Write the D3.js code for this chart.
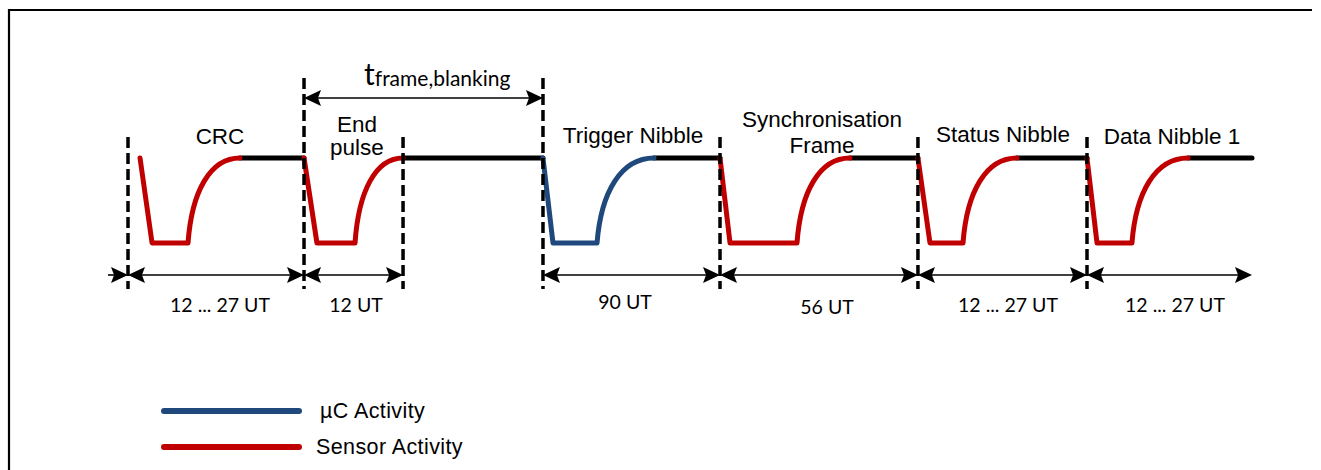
<!DOCTYPE html>
<html>
<head>
<meta charset="utf-8">
<script src="https://cdn.jsdelivr.net/npm/d3@7"></script>
<style>
  body { margin: 0; background: #fff; }
  text { font-family: "Liberation Sans", Arial, sans-serif; fill: #000; }
  .calibri { font-family: Lato, "Open Sans", sans-serif; }
</style>
</head>
<body>
<script>
// frame sequence of the SENT message (schematic time units, 0..100)
var frames = ["CRC", "End pulse", "Blanking", "Trigger Nibble", "Synchronisation Frame", "Status Nibble", "Data Nibble 1"];
var frameStart = [0, 15.66, 24.47, 36.92, 52.67, 70.28, 85.32];
var frameEnd = [15.66, 24.47, 36.92, 52.67, 70.28, 85.32, 100];
// pulse edges inside each frame
var pulseStart = [1.07, 15.66, null, 36.92, 52.67, 70.28, 85.32];
var fallEnd = [2.14, 16.81, null, 37.81, 53.56, 71.35, 86.21];
var lowEnd = [5.34, 20.2, null, 41.73, 59.52, 74.29, 89.32];
var riseEnd = [9.96, 24.47, null, 46.8, 64.23, 79.09, 94.31];
var source = ["sensor", "sensor", null, "uc", "sensor", "sensor", "sensor"];
var durations = ["12 ... 27 UT", "12 UT", null, "90 UT", "56 UT", "12 ... 27 UT", "12 ... 27 UT"];
var markers = [0, 15.66, 24.47, 36.92, 52.67, 70.28, 85.32];
var tallMarkers = [15.66, 36.92];
var blanking = [15.66, 36.92];
var legendKeys = ["uc", "sensor"];
var legendLabels = ["µC Activity", "Sensor Activity"];

// layout
var W = 1321, H = 470;
var yArrow = 275, yBlank = 98;
var labelLayout = [
  { lines: ["CRC"], x: 220, y: [144] },
  { lines: ["End", "pulse"], x: 357, y: [132, 155] },
  null,
  { lines: ["Trigger Nibble"], x: 633, y: [143] },
  { lines: ["Synchronisation", "Frame"], x: 822, y: [127, 153] },
  { lines: ["Status Nibble"], x: 1003, y: [142] },
  { lines: ["Data Nibble 1"], x: 1172, y: [144] }
];
var durLayout = [[220, 312], [356, 312], null, [625, 309], [827, 314], [1008, 312], [1175, 312]];

var x = d3.scaleLinear().domain([0, 100]).range([128, 1252]);
var y = d3.scaleLinear().domain([0, 1]).range([243, 158]);
var color = d3.scaleOrdinal().domain(["uc", "sensor"]).range(["#1F497D", "#C00000"]);

var svg = d3.select("body").append("svg")
    .attr("width", W)
    .attr("height", H);

// border (cropped frame)
svg.append("path")
    .attr("d", "M9," + H + "V10H1312")
    .attr("fill", "none")
    .attr("stroke", "#000")
    .attr("stroke-width", 2.2);

// idle (black) parts of the line
var idle = svg.append("g");
frames.forEach(function (f, i) {
  var from = riseEnd[i] == null ? frameStart[i] : riseEnd[i];
  idle.append("line")
      .attr("x1", x(from)).attr("x2", x(frameEnd[i]))
      .attr("y1", y(1)).attr("y2", y(1))
      .attr("stroke", "#000")
      .attr("stroke-width", 5)
      .attr("stroke-linecap", "round");
});

// pulses
var pulses = svg.append("g");
frames.forEach(function (f, i) {
  if (pulseStart[i] == null) return;
  var p = d3.path();
  var x0 = x(lowEnd[i]), x1 = x(riseEnd[i]), w = x1 - x0;
  p.moveTo(x(pulseStart[i]), y(1));
  p.lineTo(x(fallEnd[i]), y(0));
  p.lineTo(x0, y(0));
  p.bezierCurveTo(x0 + 0.07 * w, y(0.6), x0 + 0.42 * w, y(1), x1, y(1));
  pulses.append("path")
      .attr("d", p.toString())
      .attr("fill", "none")
      .attr("stroke", color(source[i]))
      .attr("stroke-width", 5)
      .attr("stroke-linecap", "round")
      .attr("stroke-linejoin", "round");
});

// dashed frame markers
svg.append("g").selectAll("line")
    .data(markers)
    .enter().append("line")
    .attr("x1", function (d) { return x(d); })
    .attr("x2", function (d) { return x(d); })
    .attr("y1", function (d) { return tallMarkers.indexOf(d) >= 0 ? 78 : 137; })
    .attr("y2", 289)
    .attr("stroke", "#000")
    .attr("stroke-width", 3.5)
    .attr("stroke-dasharray", "11,5");

// arrows
function head(g, tip, yy, dir) {
  // dir = -1 points left, +1 points right
  var L = 17, h = 8;
  g.append("path")
      .attr("d", "M" + tip + "," + yy + "L" + (tip - dir * L) + "," + (yy - h) +
        "L" + (tip - dir * L * 0.82) + "," + yy + "L" + (tip - dir * L) + "," + (yy + h) + "Z")
      .attr("fill", "#000");
}
function dimArrow(g, a, b, yy) {
  g.append("line")
      .attr("x1", a + 10).attr("x2", b - 10)
      .attr("y1", yy).attr("y2", yy)
      .attr("stroke", "#000").attr("stroke-width", 1.6);
  head(g, a, yy, -1);
  head(g, b, yy, 1);
}

var arrows = svg.append("g");
// lead-in arrow on the far left
arrows.append("line")
    .attr("x1", x(0) - 20).attr("x2", x(0) - 10)
    .attr("y1", yArrow).attr("y2", yArrow)
    .attr("stroke", "#000").attr("stroke-width", 1.6);
head(arrows, x(0), yArrow, 1);

frames.forEach(function (f, i) {
  if (durations[i] == null) return;
  dimArrow(arrows, x(frameStart[i]), x(frameEnd[i]), yArrow);
  svg.append("text")
      .attr("class", "calibri")
      .attr("x", durLayout[i][0])
      .attr("y", durLayout[i][1])
      .attr("text-anchor", "middle")
      .style("font-size", "19.5px")
      .text(durations[i]);
});

dimArrow(arrows, x(blanking[0]), x(blanking[1]), yBlank);

var tl = svg.append("text")
    .attr("class", "calibri")
    .attr("x", 364)
    .attr("y", 85);
tl.append("tspan").style("font-size", "30px").text("t");
tl.append("tspan").style("font-size", "21px").attr("dy", 1).text("frame,blanking");

// frame labels
labelLayout.forEach(function (l) {
  if (!l) return;
  l.lines.forEach(function (s, k) {
    svg.append("text")
        .attr("x", l.x)
        .attr("y", l.y[k])
        .attr("text-anchor", "middle")
        .style("font-size", "22.5px")
        .text(s);
  });
});

// legend
var legend = svg.append("g");
legendKeys.forEach(function (k, i) {
  var ly = 411 + i * 36;
  legend.append("line")
      .attr("x1", 164).attr("x2", 299)
      .attr("y1", ly).attr("y2", ly)
      .attr("stroke", color(k))
      .attr("stroke-width", 6)
      .attr("stroke-linecap", "round");
  legend.append("text")
      .attr("x", i === 0 ? 320 : 316)
      .attr("y", ly + 7)
      .style("font-size", "21.5px")
      .style("letter-spacing", "0.4px")
      .text(legendLabels[i]);
});
</script>
</body>
</html>
